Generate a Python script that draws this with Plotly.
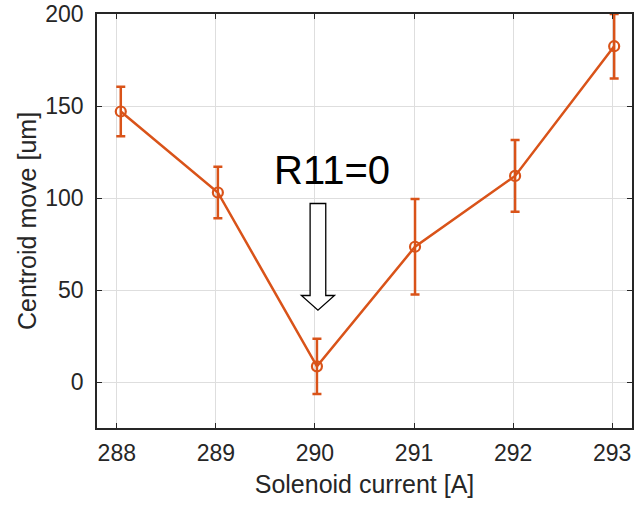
import plotly.graph_objects as go

# Measured beam centroid shift versus solenoid current
current_a = [288.04, 289.02, 290.02, 291.01, 292.02, 293.02]
centroid_um = [147.0, 103.0, 8.5, 73.5, 112.0, 182.5]
error_um = [13.5, 14.0, 15.0, 26.0, 19.5, 17.5]

x_ticks = [288, 289, 290, 291, 292, 293]
y_ticks = [0, 50, 100, 150, 200]

ORANGE = "#D95319"
AXIS = "#262626"
GRID = "#dedede"
FONT = "Arial, Liberation Sans, sans-serif"

fig = go.Figure()

fig.add_trace(go.Scatter(
    x=current_a,
    y=centroid_um,
    mode="lines+markers",
    line=dict(color=ORANGE, width=2.5),
    marker=dict(symbol="circle-open", size=10, color=ORANGE, line=dict(width=2.2, color=ORANGE)),
    error_y=dict(type="data", array=error_um, visible=True, color=ORANGE, thickness=2.5, width=4.5),
    showlegend=False,
))

# Hollow block arrow pointing at the zero-R11 setting
x0 = 290.03
shaft_half = 0.079
head_half = 0.167
y_top, y_neck, y_tip = 97.0, 47.0, 39.0
arrow_path = (
    f"M {x0 - shaft_half} {y_top} L {x0 + shaft_half} {y_top} "
    f"L {x0 + shaft_half} {y_neck} L {x0 + head_half} {y_neck} "
    f"L {x0} {y_tip} L {x0 - head_half} {y_neck} "
    f"L {x0 - shaft_half} {y_neck} Z"
)
fig.add_shape(type="path", path=arrow_path, xref="x", yref="y",
              line=dict(color="black", width=1.3), fillcolor="white")

fig.add_annotation(x=290.17, y=115, xref="x", yref="y", text="R11=0",
                   showarrow=False, font=dict(family=FONT, size=40, color="black"))

axis_common = dict(
    showline=True, linecolor=AXIS, linewidth=1.5, mirror="ticks",
    ticks="inside", ticklen=5, tickwidth=1.2, tickcolor=AXIS,
    showgrid=True, gridcolor=GRID, gridwidth=1, zeroline=False,
    tickfont=dict(family=FONT, size=23, color=AXIS),
)

fig.update_xaxes(
    range=[287.8, 293.2], tickvals=x_ticks, ticktext=[str(v) for v in x_ticks],
    title=dict(text="Solenoid current [A]", font=dict(family=FONT, size=25, color=AXIS), standoff=10),
    ticklabelstandoff=4,
    **axis_common,
)
fig.update_yaxes(
    range=[-25, 200], tickvals=y_ticks, ticktext=[str(v) for v in y_ticks],
    title=dict(text="Centroid move [um]", font=dict(family=FONT, size=25, color=AXIS), standoff=2),
    ticklabelstandoff=7,
    **axis_common,
)

fig.update_layout(
    width=638, height=506,
    margin=dict(l=97, r=6, t=14, b=78, autoexpand=False),
    paper_bgcolor="white", plot_bgcolor="white",
    font=dict(family=FONT, color=AXIS),
)

fig.write_html("out.html")
